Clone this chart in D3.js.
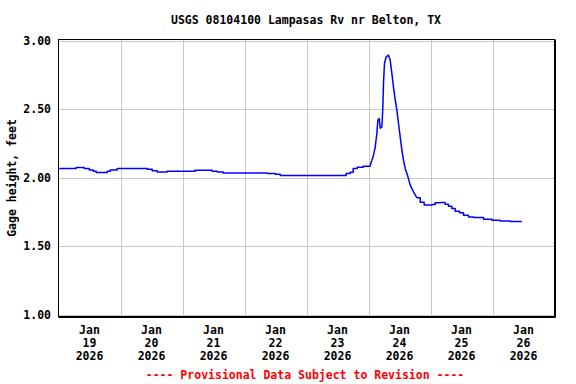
<!DOCTYPE html>
<html>
<head>
<meta charset="utf-8">
<script src="https://cdn.jsdelivr.net/npm/d3@7"></script>
<style>
  body { margin: 0; background: #fff; }
  text { font-family: "DejaVu Sans Mono", monospace; font-weight: bold; }
</style>
</head>
<body>
<script>
// Gage height readings (step values)
var times = [
  "2026-01-19T00:15", "2026-01-19T06:50", "2026-01-19T09:57", "2026-01-19T11:53",
  "2026-01-19T13:26", "2026-01-19T14:36", "2026-01-19T18:51", "2026-01-19T20:01",
  "2026-01-19T22:43", "2026-01-20T10:20", "2026-01-20T12:16", "2026-01-20T14:12",
  "2026-01-20T18:04", "2026-01-21T04:55", "2026-01-21T11:30", "2026-01-21T13:26",
  "2026-01-21T15:45", "2026-01-22T08:47", "2026-01-22T11:53", "2026-01-22T13:49",
  "2026-01-23T15:22", "2026-01-23T16:55", "2026-01-23T18:04", "2026-01-23T19:38",
  "2026-01-23T21:58", "2026-01-24T00:39", "2026-01-24T01:19", "2026-01-24T01:56",
  "2026-01-24T02:35", "2026-01-24T03:14", "2026-01-24T03:38", "2026-01-24T04:09",
  "2026-01-24T04:32", "2026-01-24T05:11", "2026-01-24T05:34", "2026-01-24T05:48",
  "2026-01-24T06:11", "2026-01-24T06:50", "2026-01-24T07:45", "2026-01-24T08:24",
  "2026-01-24T09:03", "2026-01-24T09:40", "2026-01-24T10:21", "2026-01-24T11:00",
  "2026-01-24T11:37", "2026-01-24T12:16", "2026-01-24T12:56", "2026-01-24T13:33",
  "2026-01-24T14:12", "2026-01-24T15:06", "2026-01-24T16:09", "2026-01-24T17:25",
  "2026-01-24T18:44", "2026-01-24T20:01", "2026-01-24T21:33", "2026-01-24T23:13",
  "2026-01-25T00:33", "2026-01-25T01:49", "2026-01-25T03:45", "2026-01-25T05:41",
  "2026-01-25T06:58", "2026-01-25T08:17", "2026-01-25T09:33", "2026-01-25T11:14",
  "2026-01-25T12:46", "2026-01-25T14:42", "2026-01-25T16:39", "2026-01-25T20:31",
  "2026-01-25T23:46", "2026-01-26T02:58", "2026-01-26T06:50", "2026-01-26T11:22"
];
var gageHeight = [
  2.066, 2.073, 2.066, 2.055,
  2.046, 2.036, 2.046, 2.055,
  2.066, 2.060, 2.050, 2.040,
  2.045, 2.053, 2.046, 2.040,
  2.033, 2.029, 2.024, 2.015,
  2.029, 2.039, 2.066, 2.075,
  2.082, 2.090, 2.126, 2.163,
  2.220, 2.320, 2.420, 2.430,
  2.360, 2.370, 2.515, 2.686,
  2.832, 2.880, 2.893, 2.856,
  2.760, 2.660, 2.564, 2.490,
  2.394, 2.296, 2.200, 2.126,
  2.066, 2.017, 1.944, 1.895,
  1.852, 1.820, 1.800, 1.800,
  1.803, 1.815, 1.818, 1.805,
  1.790, 1.774, 1.754, 1.742,
  1.725, 1.712, 1.708, 1.696,
  1.688, 1.683, 1.679, 1.679
];
// the fast rise and fall is drawn as a smooth line, the rest as steps
var riseStart = 25, riseEnd = 52;

var yTicks = [1.00, 1.50, 2.00, 2.50, 3.00];
var dayTicks = ["2026-01-19", "2026-01-20", "2026-01-21", "2026-01-22",
                "2026-01-23", "2026-01-24", "2026-01-25", "2026-01-26", "2026-01-27"];

var title = "USGS 08104100 Lampasas Rv nr Belton, TX";
var yLabel = "Gage height, feet";
var footer = "---- Provisional Data Subject to Revision ----";

var width = 576, height = 384;
var plotL = 58.5, plotR = 554.5, plotT = 39.5, plotB = 316.5;

var parse = d3.timeParse("%Y-%m-%dT%H:%M");
var parseDay = d3.timeParse("%Y-%m-%d");
var data = times.map(function(t, i){ return {t: parse(t), v: gageHeight[i]}; });
var days = dayTicks.map(parseDay);

var svg = d3.select("body").append("svg")
  .attr("width", width)
  .attr("height", height);

var x = d3.scaleTime()
  .domain([days[0], days[days.length - 1]])
  .range([plotL, plotR]);

var y = d3.scaleLinear()
  .domain([1, 3])
  .range([314.5, 40.5]);

// grid
svg.append("g").selectAll("line")
  .data(yTicks)
  .enter().append("line")
  .attr("x1", plotL).attr("x2", plotR)
  .attr("y1", function(d){ return Math.round(y(d)) + 0.5; })
  .attr("y2", function(d){ return Math.round(y(d)) + 0.5; })
  .attr("stroke", "#c8c8c8");

svg.append("g").selectAll("line")
  .data(days.slice(1, -1))
  .enter().append("line")
  .attr("x1", function(d){ return Math.round(x(d)) + 0.5; })
  .attr("x2", function(d){ return Math.round(x(d)) + 0.5; })
  .attr("y1", plotT).attr("y2", plotB)
  .attr("stroke", "#c8c8c8");

// data line
var stepLine = d3.line()
  .x(function(d){ return x(d.t); })
  .y(function(d){ return y(d.v); })
  .curve(d3.curveStepAfter);
var smoothLine = d3.line()
  .x(function(d){ return x(d.t); })
  .y(function(d){ return y(d.v); });

var pieces = [
  {d: data.slice(0, riseStart + 1), gen: stepLine},
  {d: data.slice(riseStart, riseEnd + 1), gen: smoothLine},
  {d: data.slice(riseEnd), gen: stepLine}
];
svg.append("g").selectAll("path")
  .data(pieces)
  .enter().append("path")
  .attr("d", function(p){ return p.gen(p.d); })
  .attr("fill", "none")
  .attr("stroke", "#0000ff")
  .attr("stroke-width", 1.5)
  .attr("stroke-linejoin", "round");

// frame
svg.append("rect")
  .attr("x", plotL).attr("y", plotT)
  .attr("width", plotR - plotL).attr("height", plotB - plotT)
  .attr("fill", "none")
  .attr("stroke", "#000")
  .attr("stroke-width", 1);
svg.append("path")
  .attr("d", "M" + (plotR + 1) + "," + plotT + "V" + (plotB + 1) + "H" + plotL)
  .attr("stroke", "#000").attr("fill", "none");

// y tick labels
svg.append("g").selectAll("text")
  .data(yTicks)
  .enter().append("text")
  .attr("x", 51)
  .attr("y", function(d){ return y(d) + 4; })
  .attr("text-anchor", "end")
  .attr("font-size", 11.5)
  .text(function(d){ return d3.format(".2f")(d); });

// x tick labels, centred on each day
var fmtLines = [d3.timeFormat("%b"), d3.timeFormat("%d"), d3.timeFormat("%Y")];
var labels = svg.append("g").selectAll("text")
  .data(days.slice(0, -1))
  .enter().append("text")
  .attr("text-anchor", "middle")
  .attr("font-size", 11.5)
  .attr("transform", function(d){
    return "translate(" + x(d3.timeHour.offset(d, 12)) + ",334)";
  });
labels.selectAll("tspan")
  .data(function(d){ return fmtLines.map(function(f){ return f(d); }); })
  .enter().append("tspan")
  .attr("x", 0)
  .attr("dy", function(d, i){ return i === 0 ? 0 : 13; })
  .text(function(d){ return d; });

// title, axis label, footer
svg.append("text")
  .attr("x", 306).attr("y", 24)
  .attr("text-anchor", "middle")
  .attr("font-size", 11.5)
  .text(title);

svg.append("text")
  .attr("transform", "translate(16,178) rotate(-90)")
  .attr("text-anchor", "middle")
  .attr("font-size", 11.5)
  .text(yLabel);

svg.append("text")
  .attr("x", 305).attr("y", 379)
  .attr("text-anchor", "middle")
  .attr("font-size", 11.5)
  .attr("fill", "#ff0000")
  .text(footer);
</script>
</body>
</html>
